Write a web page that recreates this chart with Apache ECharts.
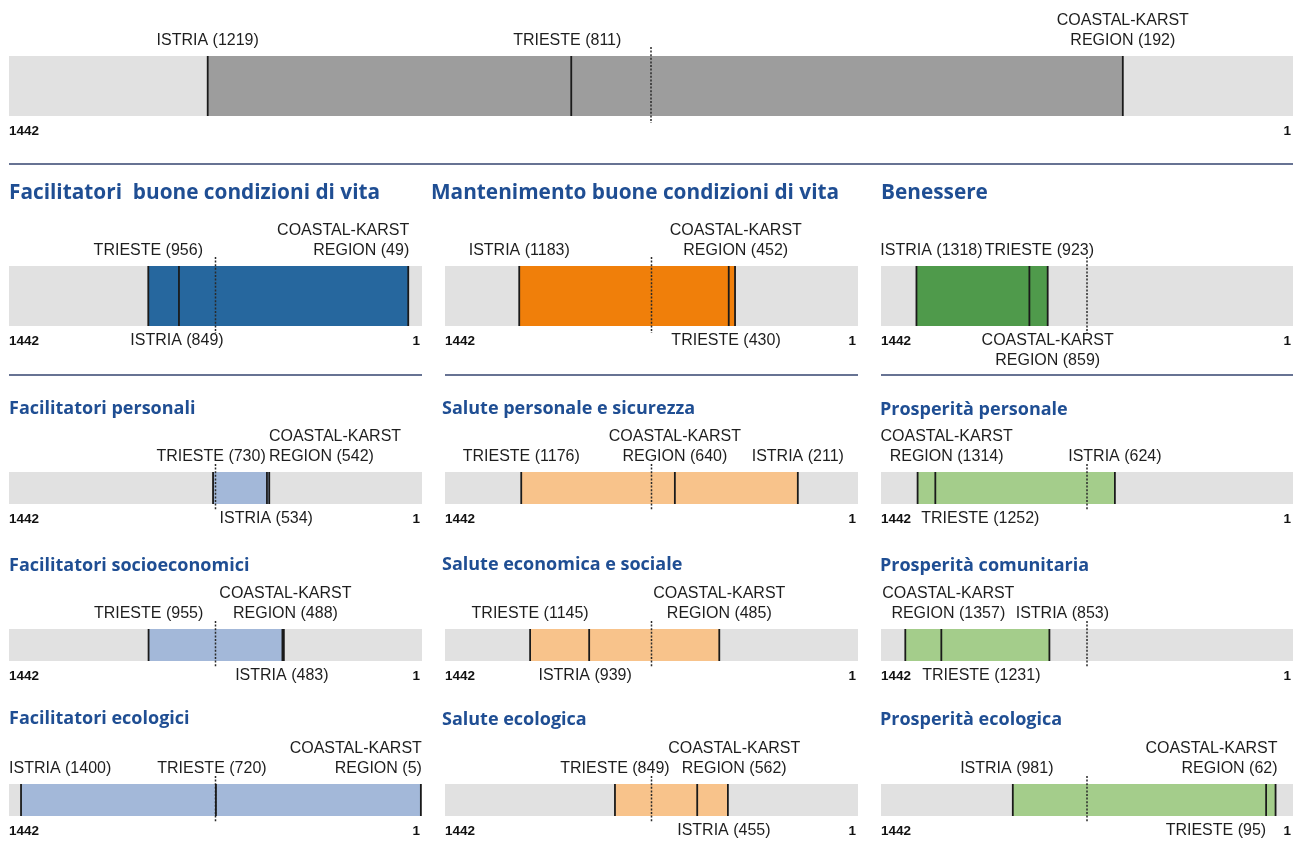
<!DOCTYPE html>
<html><head><meta charset="utf-8">
<script src="https://cdn.jsdelivr.net/npm/echarts@6/dist/echarts.min.js"></script>
<style>html,body{margin:0;padding:0;background:#fff}#c{width:1293px;height:853px}</style>
</head><body><div id="c"></div>
<script>
// ---------- DATA ----------
const regionNames = ['ISTRIA', 'TRIESTE', 'COASTAL-KARST\nREGION'];
const panelTitles = ['', 'Facilitatori  buone condizioni di vita', 'Mantenimento buone condizioni di vita', 'Benessere',
  'Facilitatori personali', 'Salute personale e sicurezza', 'Prosperità personale',
  'Facilitatori socioeconomici', 'Salute economica e sociale', 'Prosperità comunitaria',
  'Facilitatori ecologici', 'Salute ecologica', 'Prosperità ecologica'];
const istria  = [1219, 849, 1183, 1318, 534, 211, 624, 483, 939, 853, 1400, 455, 981];
const trieste = [811, 956, 430, 923, 730, 1176, 1252, 955, 1145, 1231, 720, 849, 95];
const coastal = [192, 49, 452, 859, 542, 640, 1314, 488, 485, 1357, 5, 562, 62];
const rankWorst = 1442, rankBest = 1;
const medianRank = 721.5;
const tickLabels = ['1442', '1'];

// ---------- LAYOUT / STYLE ----------
// label placement per panel, per region [side, align, dx]
const labelLayout = [
  [['t','c',0],['t','c',-4],['t','c',0]],
  [['b','c',-2],['t','c',0],['t','r',1]],
  [['t','c',0],['b','c',-9],['t','c',7]],
  [['t','c',15],['t','c',10],['b','c',0]],
  [['b','c',-3],['t','c',-2],['t','l',2]],
  [['t','c',0],['t','c',0],['t','c',0]],
  [['t','c',0],['b','c',45],['t','c',29]],
  [['b','c',-2],['t','c',0],['t','c',3]],
  [['b','c',-4],['t','c',0],['t','c',0]],
  [['t','c',13],['b','c',40],['t','c',43]],
  [['t','l',-12],['t','c',-4],['t','r',1]],
  [['b','c',-4],['t','c',0],['t','c',37]],
  [['t','c',-6],['b','r',0],['t','r',2]]
];
const rangeColors = ['#9d9d9d', '#26679e', '#f07f0a', '#4f9a4b',
  '#a3b8d9', '#f8c38b', '#a4cd8b',
  '#a3b8d9', '#f8c38b', '#a4cd8b',
  '#a3b8d9', '#f8c38b', '#a4cd8b'];
const colLeft = [9, 445, 881], colW = [413, 413, 412];
const rowTop = [266, 472, 629, 784], rowH = [60, 32, 32, 32];
const grids = [{left: 9, top: 56, width: 1284, height: 60}];
for (let r = 0; r < 4; r++) for (let c = 0; c < 3; c++)
  grids.push({left: colLeft[c], top: rowTop[r], width: colW[c], height: rowH[r]});

const LABEL_FONT = 'Liberation Sans, Arial, sans-serif';
const TITLE_FONT = 'Open Sans, Noto Sans, sans-serif';
const TITLE_COLOR = '#1f4e93';

function makeRender(p) {
  return function (params, api) {
    const vals = [api.value(0), api.value(1), api.value(2)];
    const top = api.coord([rankBest, 1])[1];
    const bot = api.coord([rankBest, 0])[1];
    const xL = api.coord([rankWorst, 0])[0];
    const xR = api.coord([rankBest, 0])[0];
    const xs = vals.map(v => api.coord([v, 0])[0]);
    const xMin = Math.min.apply(null, xs), xMax = Math.max.apply(null, xs);
    const xMed = api.coord([medianRank, 0])[0];
    const big = p <= 3;
    const children = [
      {type: 'rect', shape: {x: xL, y: top, width: xR - xL, height: bot - top}, style: {fill: '#e1e1e1'}},
      {type: 'rect', shape: {x: xMin, y: top, width: xMax - xMin, height: bot - top}, style: {fill: rangeColors[p]}},
      {type: 'line', shape: {x1: xMed, y1: top - (big ? 9 : 8), x2: xMed, y2: bot + (big ? 7 : 6)},
        style: {stroke: '#2a2a2a', lineWidth: 1.5, lineDash: [2, 1.6]}}
    ];
    xs.forEach(x => children.push({type: 'line', shape: {x1: x, y1: top, x2: x, y2: bot},
      style: {stroke: '#1a1a1a', lineWidth: 1.8}}));
    xs.forEach((x, i) => {
      const lay = labelLayout[p][i];
      const side = lay[0], al = lay[1], dx = lay[2];
      children.push({type: 'text', style: {
        text: regionNames[i] + ' (' + vals[i] + ')',
        x: x + dx, y: side === 't' ? top - 5 : bot + 5,
        align: al === 'c' ? 'center' : (al === 'l' ? 'left' : 'right'),
        verticalAlign: side === 't' ? 'bottom' : 'top',
        fontSize: 16, fontFamily: LABEL_FONT, lineHeight: 20, fill: '#1e1e1e'
      }});
    });
    children.push({type: 'text', style: {text: tickLabels[0], x: xL, y: bot + 15, align: 'left', verticalAlign: 'middle',
      fontSize: 13.5, fontWeight: 'bold', fontFamily: LABEL_FONT, fill: '#111'}});
    children.push({type: 'text', style: {text: tickLabels[1], x: xR - 2, y: bot + 15, align: 'right', verticalAlign: 'middle',
      fontSize: 13.5, fontWeight: 'bold', fontFamily: LABEL_FONT, fill: '#111'}});
    return {type: 'group', children: children};
  };
}

const titlePos = [null,
  [9, 193, 20.8], [431, 193, 20.8], [881, 193, 20.8],
  [9, 409, 18], [442, 409, 18], [880, 410, 18],
  [9, 566, 18], [442, 565, 18], [880, 566, 18],
  [9, 719, 18], [442, 720, 18], [880, 720, 18]];
const titles = [];
for (let p = 1; p < 13; p++) {
  const t = titlePos[p];
  titles.push({text: panelTitles[p], left: t[0], top: t[1] - 13, padding: 0,
    textStyle: {fontFamily: TITLE_FONT, fontWeight: 'bold', fontSize: t[2], lineHeight: 26, color: TITLE_COLOR}});
}

const option = {
  animation: false,
  title: titles,
  grid: grids,
  xAxis: grids.map((g, i) => ({type: 'value', gridIndex: i, min: rankBest, max: rankWorst, inverse: true, show: false})),
  yAxis: grids.map((g, i) => ({type: 'value', gridIndex: i, min: 0, max: 1, show: false})),
  series: grids.map((g, p) => ({
    type: 'custom', xAxisIndex: p, yAxisIndex: p, clip: false,
    renderItem: makeRender(p),
    data: [[istria[p], trieste[p], coastal[p]]]
  })),
  graphic: [
    {type: 'line', shape: {x1: 9, y1: 164, x2: 1293, y2: 164}, style: {stroke: '#34446f', lineWidth: 1.3}},
    {type: 'line', shape: {x1: 9, y1: 375, x2: 422, y2: 375}, style: {stroke: '#34446f', lineWidth: 1.3}},
    {type: 'line', shape: {x1: 445, y1: 375, x2: 858, y2: 375}, style: {stroke: '#34446f', lineWidth: 1.3}},
    {type: 'line', shape: {x1: 881, y1: 375, x2: 1293, y2: 375}, style: {stroke: '#34446f', lineWidth: 1.3}}
  ]
};
const chart = echarts.init(document.getElementById('c'));
chart.setOption(option);
</script></body></html>
